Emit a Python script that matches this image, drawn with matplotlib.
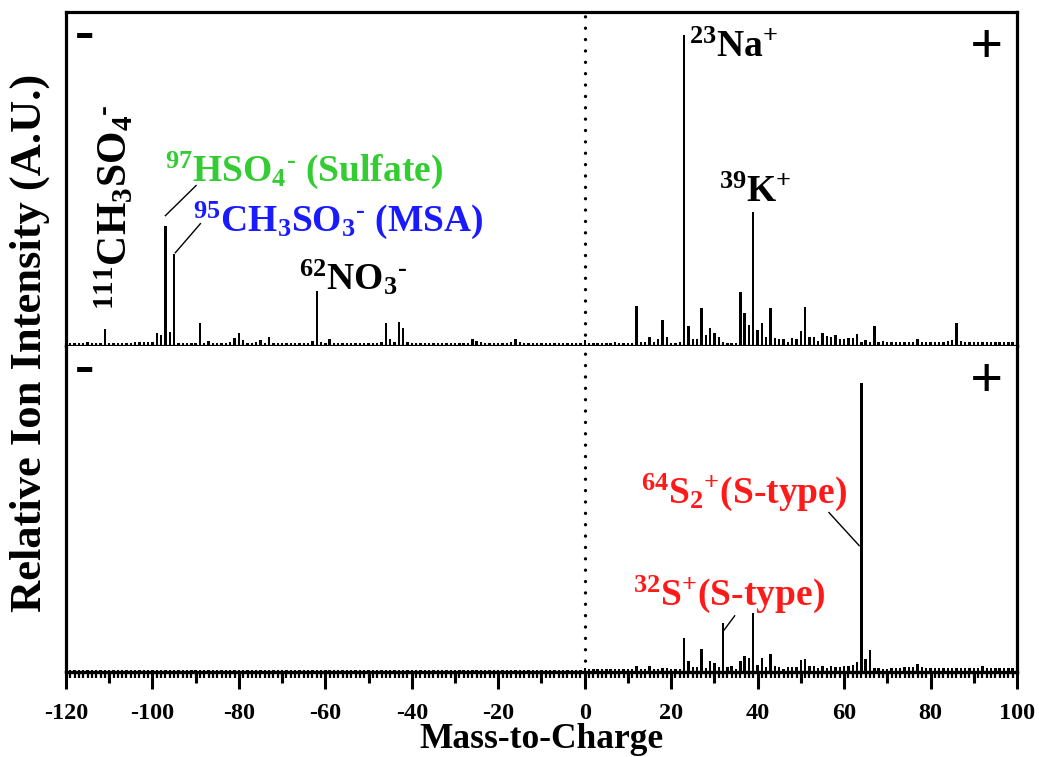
import numpy as np
import matplotlib.pyplot as plt
from matplotlib.ticker import MultipleLocator, NullFormatter

plt.rcParams['font.family'] = 'Liberation Serif'
plt.rcParams['font.weight'] = 'bold'
plt.rcParams['axes.unicode_minus'] = False
plt.rcParams['mathtext.fontset'] = 'custom'
plt.rcParams['mathtext.rm'] = 'Liberation Serif:bold'
plt.rcParams['mathtext.it'] = 'Liberation Serif:bold'
plt.rcParams['mathtext.bf'] = 'Liberation Serif:bold'

# unit mass axis, negative ions on the left, positive on the right
mz = np.arange(-120, 101)

# average spectrum of all particles (A.U.), one value per m/z from -120 to 100
intensity_all = [
    2, 3, 3, 3, 3, 4, 3, 3, 3, 17,         # -120 .. -111
    3, 3, 3, 3, 3, 3, 4, 4, 4, 4,          # -110 .. -101
    4, 13, 11, 120, 14, 92, 3, 3, 3, 3,    # -100 .. -91
    3, 23, 3, 5, 3, 3, 3, 3, 4, 8,         # -90 .. -81
    13, 6, 3, 3, 4, 6, 3, 9, 3, 3,         # -80 .. -71
    3, 3, 3, 3, 3, 3, 3, 5, 55, 4,         # -70 .. -61
    3, 7, 3, 3, 3, 3, 3, 3, 3, 3,          # -60 .. -51
    3, 3, 3, 4, 23, 7, 4, 24, 18, 4,       # -50 .. -41
    3, 3, 3, 3, 3, 3, 3, 3, 3, 3,          # -40 .. -31
    3, 3, 3, 3, 7, 5, 4, 3, 3, 3,          # -30 .. -21
    3, 3, 3, 4, 7, 4, 3, 3, 3, 3,          # -20 .. -11
    3, 3, 3, 3, 3, 3, 3, 3, 3, 3,          # -10 .. -1
    6,                                     # 0
    3, 3, 3, 3, 3, 3, 4, 3, 3, 3,          # 1 .. 10
    3, 40, 4, 4, 9, 4, 7, 26, 9, 3,        # 11 .. 20
    3, 4, 310, 20, 7, 7, 38, 11, 18, 13,   # 21 .. 30
    9, 4, 3, 3, 3, 54, 33, 21, 134, 16,    # 31 .. 40
    23, 9, 38, 8, 7, 7, 4, 8, 7, 15,       # 41 .. 50
    39, 9, 9, 5, 13, 10, 9, 11, 7, 7,      # 51 .. 60
    8, 8, 12, 4, 6, 4, 20, 4, 5, 4,        # 61 .. 70
    4, 4, 4, 4, 4, 4, 7, 4, 4, 4,          # 71 .. 80
    4, 4, 4, 5, 6, 23, 5, 4, 4, 4,         # 81 .. 90
    4, 4, 4, 4, 4, 4, 4, 4, 4, 4,          # 91 .. 100
]

# spectrum of the S-type particles (A.U.)
intensity_stype = [
    2, 2, 2, 2, 2, 2, 2, 2, 2, 2,          # -120 .. -111
    2, 2, 2, 2, 2, 2, 2, 2, 2, 2,          # -110 .. -101
    2, 2, 2, 2, 2, 2, 2, 2, 2, 2,          # -100 .. -91
    2, 2, 2, 2, 2, 2, 2, 2, 2, 2,          # -90 .. -81
    2, 2, 2, 2, 2, 2, 2, 2, 2, 2,          # -80 .. -71
    2, 2, 2, 2, 2, 2, 2, 2, 2, 2,          # -70 .. -61
    2, 2, 2, 2, 2, 2, 2, 2, 2, 2,          # -60 .. -51
    2, 2, 2, 2, 2, 2, 2, 2, 2, 2,          # -50 .. -41
    2, 2, 2, 2, 2, 2, 2, 2, 2, 2,          # -40 .. -31
    2, 2, 2, 2, 2, 2, 2, 2, 2, 2,          # -30 .. -21
    2, 2, 2, 2, 2, 2, 2, 2, 2, 2,          # -20 .. -11
    2, 2, 2, 2, 2, 2, 2, 2, 2, 2,          # -10 .. -1
    4,                                     # 0
    3, 3, 3, 3, 3, 3, 3, 3, 3, 3,          # 1 .. 10
    3, 6, 3, 3, 6, 3, 3, 4, 4, 3,          # 11 .. 20
    3, 3, 34, 11, 5, 5, 23, 4, 11, 9,      # 21 .. 30
    5, 49, 5, 6, 3, 11, 16, 14, 59, 7,     # 31 .. 40
    14, 5, 18, 6, 5, 3, 5, 5, 5, 12,       # 41 .. 50
    13, 6, 6, 4, 6, 4, 6, 5, 5, 6,         # 51 .. 60
    6, 7, 10, 288, 13, 22, 4, 4, 3, 3,     # 61 .. 70
    4, 4, 4, 5, 5, 5, 8, 5, 4, 4,          # 71 .. 80
    4, 4, 4, 4, 4, 4, 4, 4, 4, 4,          # 81 .. 90
    4, 6, 4, 4, 4, 4, 4, 4, 4, 3,          # 91 .. 100
]

fig = plt.figure(figsize=(10.39, 7.57), dpi=100)
ax1 = fig.add_axes([0.0635, 0.5429, 0.9153, 0.4412])
ax2 = fig.add_axes([0.0635, 0.1123, 0.9153, 0.4306], sharex=ax1)

for ax, vals, top in ((ax1, intensity_all, 333), (ax2, intensity_stype, 325)):
    ax.bar(mz, vals, width=0.55, color='black', linewidth=0)
    ax.axvline(0, color='black', lw=2.4, linestyle=(0, (0.01, 3.4)),
               dash_capstyle='round')
    ax.set_ylim(0, top)
    ax.set_yticks([])
    for s in ax.spines.values():
        s.set_linewidth(2.3)
    ax.text(-115.6, top - 23, '-', fontsize=42, ha='center', va='center')
    ax.text(92.9, top - 37, '+', fontsize=42, ha='center', va='center')

ax1.set_xlim(-120, 100)
ax1.tick_params(axis='x', which='both', bottom=False, labelbottom=False)
ax2.spines['top'].set_visible(False)

# ticks: labelled every 20, medium every 10, small every 1
ax2.xaxis.set_major_locator(MultipleLocator(20))
ax2.xaxis.set_minor_locator(MultipleLocator(1))
ax2.tick_params(axis='x', which='major', length=12, width=2.2, labelsize=17.5, pad=10)
ax2.tick_params(axis='x', which='minor', length=4.5, width=1.6)
mid = ax2.secondary_xaxis('bottom')
mid.set_xticks(np.arange(-110, 100, 20))
mid.xaxis.set_major_formatter(NullFormatter())
mid.tick_params(axis='x', length=8, width=2.2)
mid.spines['bottom'].set_linewidth(2.3)

ax2.set_xlabel('Mass-to-Charge', fontsize=25.5, fontweight='bold')
ax2.xaxis.set_label_coords(0.5, -0.158)
fig.text(0.029, 0.547, 'Relative Ion Intensity (A.U.)', fontsize=32,
         fontweight='bold', rotation=90, ha='center', va='center')

# peak labels, upper spectrum
lab = dict(fontsize=27)
ax1.text(24.1, 298, r'$^{23}$Na$^{+}$', ha='left', va='center', **lab)
ax1.text(31, 153, r'$^{39}$K$^{+}$', ha='left', va='center', **lab)
ax1.text(-66.2, 68, r'$^{62}$NO$_{3}$$^{\text{-}}$', ha='left', va='center', **lab)
ax1.text(-97, 175, r'$^{97}$HSO$_{4}$$^{\text{-}}$ (Sulfate)', ha='left',
         va='center', color='#33cc33', **lab)
ax1.text(-90.5, 125, r'$^{95}$CH$_{3}$SO$_{3}$$^{\text{-}}$ (MSA)', ha='left',
         va='center', color='#1a1aff', **lab)
ax1.text(-108.6, 138, r'$^{111}$CH$_{3}$SO$_{4}$$^{\text{-}}$', ha='center',
         va='center', rotation=90, fontsize=30)
ax1.plot([-97.0, -89.9], [130, 160], color='black', lw=1)
ax1.plot([-94.7, -88.9], [93, 122], color='black', lw=1)

# peak labels, S-type spectrum
ax2.text(13, 179, r'$^{64}$S$_{2}$$^{+}$(S-type)', ha='left', va='center',
         color='#ff1a1a', **lab)
ax2.text(11.1, 77, r'$^{32}$S$^{+}$(S-type)', ha='left', va='center',
         color='#ff1a1a', **lab)
ax2.plot([56.5, 63.5], [159, 126], color='black', lw=1)
ax2.plot([32.1, 34.7], [41, 56], color='black', lw=1)

fig.savefig('out.png', dpi=100)
